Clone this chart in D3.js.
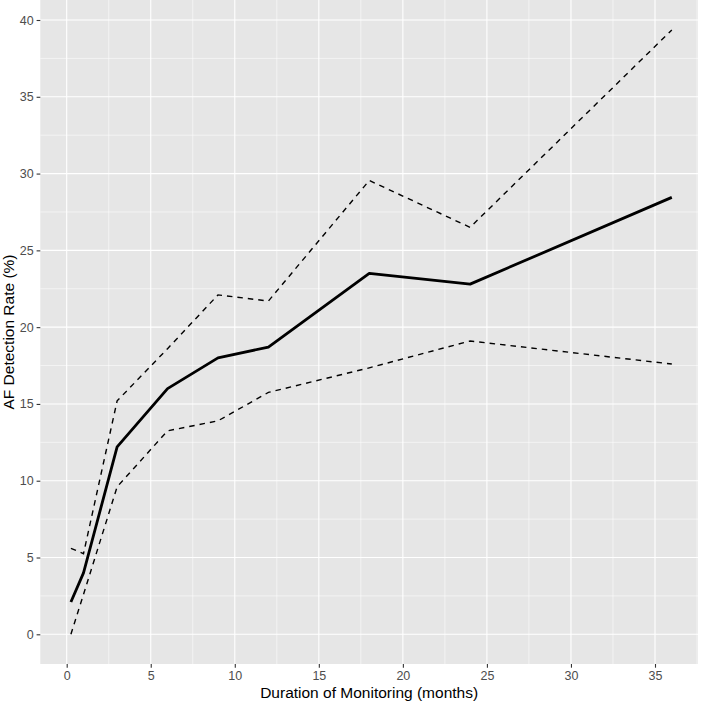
<!DOCTYPE html>
<html><head><meta charset="utf-8">
<script src="https://cdn.jsdelivr.net/npm/d3@7"></script>
<style>body{margin:0;background:#fff}svg{display:block}</style>
</head><body>
<script>
const months = [0.25, 1, 3, 6, 9, 12, 18, 24, 36];
const estimate = [2.1, 4.0, 12.2, 16.0, 18.0, 18.7, 23.5, 22.8, 28.45];
const upperCI = [5.6, 5.25, 15.2, 18.6, 22.1, 21.7, 29.55, 26.5, 39.35];
const lowerCI = [0.0, 2.6, 9.6, 13.25, 13.9, 15.75, 17.35, 19.1, 17.6];
const xTicks = [0, 5, 10, 15, 20, 25, 30, 35];
const yTicks = [0, 5, 10, 15, 20, 25, 30, 35, 40];
const xTitle = "Duration of Monitoring (months)";
const yTitle = "AF Detection Rate (%)";

const W = 703, H = 703;
const panel = {l: 40.3, r: 698, t: 0, b: 664};
const svg = d3.select("body").append("svg").attr("width", W).attr("height", H);
const FONT = "'Liberation Sans', Arial, sans-serif";

// scales calibrated so ticks land on reference pixel positions
const x = d3.scaleLinear().domain([0, 35]).range([66.7, 655]);
const y = d3.scaleLinear().domain([0, 40]).range([634.3, 20]);
x.domain([x.invert(panel.l), x.invert(panel.r)]).range([panel.l, panel.r]);
y.domain([y.invert(panel.b), y.invert(panel.t)]).range([panel.b, panel.t]);

svg.append("rect").attr("x", panel.l).attr("y", panel.t)
  .attr("width", panel.r - panel.l).attr("height", panel.b - panel.t).attr("fill", "#E6E6E6");

const g = svg.append("g");
// minor grid
const xMinor = xTicks.map(v => v + 2.5).filter(v => x(v) < panel.r);
const yMinor = yTicks.map(v => v + 2.5).filter(v => y(v) > panel.t);
g.selectAll(".xm").data(xMinor).join("line")
  .attr("x1", d => x(d)).attr("x2", d => x(d)).attr("y1", panel.t).attr("y2", panel.b)
  .attr("stroke", "#fff").attr("stroke-width", 0.55);
g.selectAll(".ym").data(yMinor).join("line")
  .attr("y1", d => y(d)).attr("y2", d => y(d)).attr("x1", panel.l).attr("x2", panel.r)
  .attr("stroke", "#fff").attr("stroke-width", 0.55);
// major grid
g.selectAll(".xM").data(xTicks).join("line")
  .attr("x1", d => x(d)).attr("x2", d => x(d)).attr("y1", panel.t).attr("y2", panel.b)
  .attr("stroke", "#fff").attr("stroke-width", 1.1);
g.selectAll(".yM").data(yTicks).join("line")
  .attr("y1", d => y(d)).attr("y2", d => y(d)).attr("x1", panel.l).attr("x2", panel.r)
  .attr("stroke", "#fff").attr("stroke-width", 1.1);

// axes
const xAxis = d3.axisBottom(x).tickValues(xTicks).tickSize(3.7).tickPadding(3);
const yAxis = d3.axisLeft(y).tickValues(yTicks).tickSize(3.7).tickPadding(3);
const ga = svg.append("g").attr("transform", `translate(0,${panel.b})`).call(xAxis);
const gy = svg.append("g").attr("transform", `translate(${panel.l},0)`).call(yAxis);
[ga, gy].forEach(a => {
  a.select(".domain").remove();
  a.selectAll(".tick line").attr("stroke", "#333").attr("stroke-width", 1.1);
  a.selectAll(".tick text").attr("fill", "#4D4D4D")
    .style("font-family", FONT).style("font-size", "12.5px");
});

// lines
const line = d3.line().x(d => x(d[0])).y(d => y(d[1]));
const mk = arr => months.map((m, i) => [m, arr[i]]);
svg.append("path").datum(mk(upperCI)).attr("d", line).attr("fill", "none")
  .attr("stroke", "#000").attr("stroke-width", 1.4).attr("stroke-dasharray", "5.5,5");
svg.append("path").datum(mk(lowerCI)).attr("d", line).attr("fill", "none")
  .attr("stroke", "#000").attr("stroke-width", 1.4).attr("stroke-dasharray", "5.5,5");
svg.append("path").datum(mk(estimate)).attr("d", line).attr("fill", "none")
  .attr("stroke", "#000").attr("stroke-width", 2.8).attr("stroke-linejoin", "round");

// titles
svg.append("text").attr("x", (panel.l + panel.r) / 2).attr("y", 698)
  .attr("text-anchor", "middle").attr("fill", "#000")
  .style("font-family", FONT).style("font-size", "15.5px")
  .text(xTitle);
svg.append("text").attr("transform", `translate(13.5,${(panel.t + panel.b) / 2}) rotate(-90)`)
  .attr("text-anchor", "middle").attr("fill", "#000")
  .style("font-family", FONT).style("font-size", "15.5px")
  .text(yTitle);
</script>
</body></html>
